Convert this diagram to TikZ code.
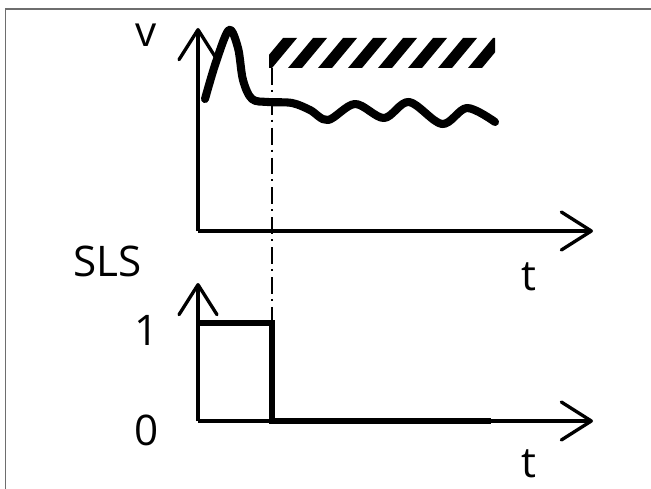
\documentclass[tikz,border=0pt]{standalone}
\usepackage{fontspec}
\setmainfont{Open Sans}
\usepackage{tikz}
\usetikzlibrary{arrows.meta, positioning, calc}
\definecolor{framegray}{RGB}{110,110,110}

\begin{document}
\begin{tikzpicture}[x=0.02cm, y=-0.02cm,
  axis/.style={line width=1.9pt, -{Straight Barb[length=6mm, width=7.6mm, round]}},
  signal/.style={line width=3.2pt},
  speed/.style={line width=4.6pt, line cap=round, line join=round},
  dashdotline/.style={line width=1.6pt, dash pattern=on 9.6pt off 2.8pt on 1.2pt off 3.4pt},
  lbl/.style={inner sep=0pt, anchor=base west, font=\fontsize{24pt}{28pt}\selectfont}]

\useasboundingbox (0,0) rectangle (651,489);

% Frame
\draw[framegray, line width=1.1pt] (5.5,489) -- (5.5,9) -- (651,9);

% Define coordinates
\coordinate (O1) at (198,231);
\coordinate (O2) at (198,421);
\coordinate (vtop) at (198,28);
\coordinate (stop) at (198,283);
\coordinate (t1end) at (593,231);
\coordinate (t2end) at (593,421);
\coordinate (hatchBL) at (269,68);
\coordinate (hatchTR) at (495,38);
\coordinate (sigup) at (272,323);
\coordinate (sigdown) at (272,421);
\coordinate (sigend) at (491,421);

% Axes
\draw[axis] (O1) -- (vtop);
\draw[axis] (O1) -- (t1end);
\draw[axis] (O2) -- (stop);
\draw[axis] (O2) -- (t2end);

% Hatched limit
\begin{scope}
  \clip (hatchBL) rectangle (hatchTR);
  \foreach \i in {-1,...,8} {
    \fill ({258+30*\i},68) -- ({272+30*\i},68) -- ({297+30*\i},38) -- ({283+30*\i},38) -- cycle;
  }
\end{scope}

% Dash-dot marker
\draw[dashdotline] (hatchBL -| sigup) -- (sigup);

% Speed curve
\draw[speed] plot[smooth, tension=0.55] coordinates {
  (205,99) (216,62) (229,30) (238,48) (243,80) (252,99) (268,102) (292,103)
  (310,110) (328,120) (355,104) (384,118) (409,102) (442,124) (467,108) (495,122)};

% SLS signal
\draw[signal] (O2 |- sigup) -- (sigup) -- (sigdown) -- (sigend);

% Labels
\node[lbl] (vlabel) at (135,47) {v};
\node[lbl] (slslabel) at (73,276) {SLS};
\node[lbl] (tupper) at (521,290) {t};
\node[lbl] (onelabel) at (134,345) {1};
\node[lbl] (zerolabel) at (134,445) {0};
\node[lbl] (tlower) at (521,477) {t};

\end{tikzpicture}
\end{document}
